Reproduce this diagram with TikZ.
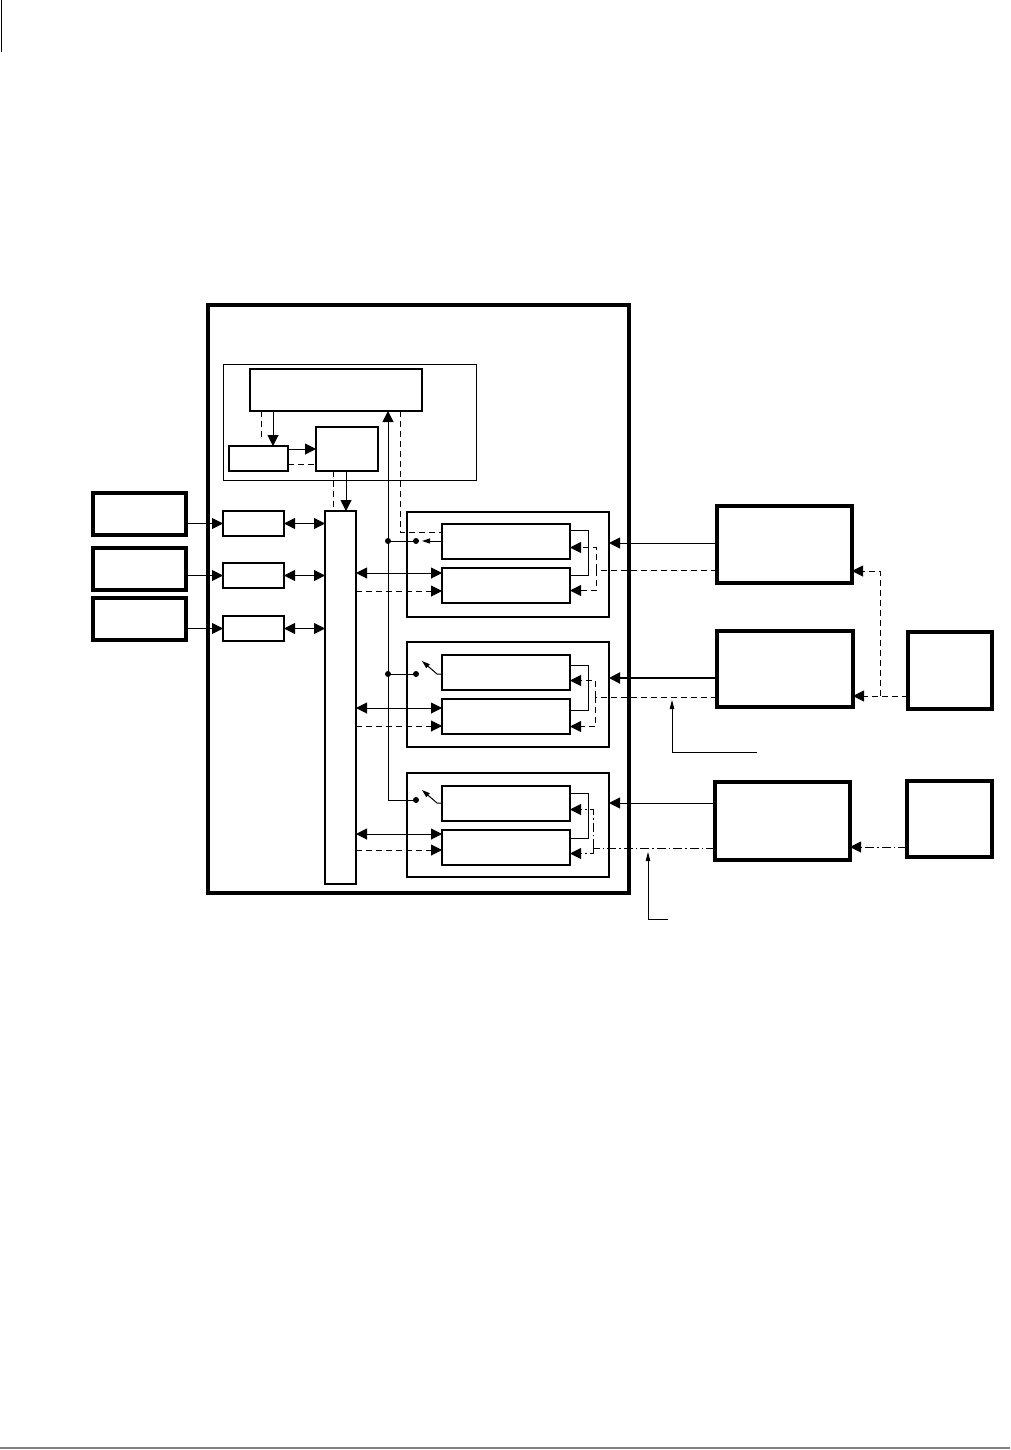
\documentclass[tikz,border=0pt]{standalone}
\usetikzlibrary{arrows.meta}

\tikzset{
  box/.style={draw, inner sep=0pt, outer sep=0pt, line width=#1},
  box/.default=1pt,
  dsh/.style={dash pattern=on 6pt off 4pt},
  ddot/.style={dash pattern=on 9pt off 3pt on 1.5pt off 3pt},
  sml/.style={-{Triangle[length=8pt,width=5pt]}},
  lead/.style={-{Triangle[length=9pt,width=4.5pt]}, line width=0.8pt}
}

\begin{document}
\begin{tikzpicture}[x=1pt, y=-1pt, line width=1pt, >={Triangle[length=11pt,width=11pt]}]

\useasboundingbox (0,0) rectangle (1010,1450);
\draw[line width=1.5pt] (1.5,0) -- (1.5,52);
\draw[gray, line width=2pt] (0,1448) -- (1010,1448);

% system frame
\node[box=4pt, minimum width=421pt, minimum height=588pt] (sys) at (418.5,599) {};
\node[box=1pt, minimum width=253pt, minimum height=116pt] (ctl) at (349.5,422) {};
\node[box=2pt, minimum width=172pt, minimum height=42pt] (cpu) at (336,390) {};
\node[box=2pt, minimum width=59pt, minimum height=25pt] (mem) at (258.5,458.5) {};
\node[box=2pt, minimum width=62pt, minimum height=44pt] (io) at (347,449) {};
\node[box=2pt, minimum width=31pt, minimum height=373pt] (bus) at (340.5,697.5) {};

% terminals and ports
\node[box=4pt, minimum width=93pt, minimum height=42pt] (term1) at (139.5,514) {};
\node[box=4pt, minimum width=93pt, minimum height=42pt] (term2) at (139.5,569) {};
\node[box=4pt, minimum width=93pt, minimum height=42pt] (term3) at (139.5,619) {};
\node[box=2pt, minimum width=61pt, minimum height=25pt] (port1) at (253.5,523.5) {};
\node[box=2pt, minimum width=61pt, minimum height=25pt] (port2) at (253.5,575.5) {};
\node[box=2pt, minimum width=61pt, minimum height=25pt] (port3) at (253.5,628.5) {};

% line modules
\node[box=2pt, minimum width=202pt, minimum height=105pt] (mod1) at (508,564.5) {};
\node[box=1.5pt, minimum width=128pt, minimum height=35pt] (mod1a) at (506,541.5) {};
\node[box=1.5pt, minimum width=128pt, minimum height=35pt] (mod1b) at (506,585.5) {};
\node[box=2pt, minimum width=202pt, minimum height=105pt] (mod2) at (508,694.5) {};
\node[box=1.5pt, minimum width=128pt, minimum height=35pt] (mod2a) at (506,672.5) {};
\node[box=1.5pt, minimum width=128pt, minimum height=35pt] (mod2b) at (506,716.5) {};
\node[box=2pt, minimum width=202pt, minimum height=104pt] (mod3) at (508,825) {};
\node[box=1.5pt, minimum width=128pt, minimum height=35pt] (mod3a) at (506,803.5) {};
\node[box=1.5pt, minimum width=128pt, minimum height=35pt] (mod3b) at (506,847.5) {};

% outside equipment
\node[box=4pt, minimum width=135pt, minimum height=77pt] (line1) at (784.5,544.5) {};
\node[box=4pt, minimum width=136pt, minimum height=76pt] (line2) at (785,669) {};
\node[box=4pt, minimum width=135pt, minimum height=78pt] (line3) at (782.5,821) {};
\node[box=4pt, minimum width=84pt, minimum height=77pt] (src2) at (950,670.5) {};
\node[box=4pt, minimum width=85pt, minimum height=76pt] (src3) at (949.5,819) {};

% guide columns and rows
\coordinate (v1) at (273,0);
\coordinate (v2) at (261,0);
\coordinate (v3) at (346,0);
\coordinate (v4) at (333,0);
\coordinate (v5) at (388,0);
\coordinate (v6) at (400,0);
\coordinate (h1) at (0,464);
\coordinate (h2) at (0,532);
\coordinate (k1) at (416,541);
\coordinate (k2) at (416,674);
\coordinate (k3) at (416,800);
\coordinate (b1) at (0,573);
\coordinate (b2) at (0,708);
\coordinate (b3) at (0,834);
\coordinate (d1) at (0,591);
\coordinate (d2) at (0,726);
\coordinate (d3) at (0,850);
\coordinate (s1) at (0,543);
\coordinate (s2) at (0,678);
\coordinate (s3) at (0,803);
\coordinate (j1) at (596,570);
\coordinate (j2) at (595,697);
\coordinate (j3) at (593,848);
\coordinate (j4) at (880,696);
\coordinate (j5) at (880,571);
\coordinate (j6) at (0,847);
\coordinate (n1) at (672,752);
\coordinate (n1e) at (757,752);
\coordinate (n2) at (648,919);
\coordinate (n2e) at (668,919);

% control unit
\draw[->] (cpu.south -| v1) -- (mem.north -| v1);
\draw[dsh] (cpu.south -| v2) -- ++(0,30);
\draw[->] (mem.east |- io.west) -- (io.west);
\draw[dsh] (mem.east |- h1) -- (io.west |- h1);
\draw[->] (io.south -| v3) -- (bus.north -| v3);
\draw[dsh] (io.south -| v4) -- (bus.north -| v4);

% control line to modules
\draw[->] (k3) -| (cpu.south -| v5);
\draw (v5 |- k1) -- (k1);
\draw (v5 |- k2) -- (k2);
\fill (v5 |- k1) circle (3pt) (k1) circle (3pt);
\fill (v5 |- k2) circle (3pt) (k2) circle (3pt);
\fill (k3) circle (3pt);
\draw[sml] (mod1a.west |- k1) -- ++(-20,0);
\draw[sml] (mod2a.west |- k2) -- ++(-5,0) -- ++(-15,-13);
\draw[sml] ([yshift=-3pt]mod3a.west |- k3) -- ++(-5,0) -- ++(-15,-13);
\draw[dsh] (cpu.south -| v6) |- (mod1a.west |- h2);

% ports to bus
\draw[->] (term1.east |- port1.east) -- (port1.west);
\draw[->] (term2.east |- port2.east) -- (port2.west);
\draw[->] (term3.east |- port3.east) -- (port3.west);
\draw[<->] (port1.east) -- (bus.west |- port1.east);
\draw[<->] (port2.east) -- (bus.west |- port2.east);
\draw[<->] (port3.east) -- (bus.west |- port3.east);

% bus to modules
\draw[<->] (bus.east |- b1) -- (mod1b.west |- b1);
\draw[<->] (bus.east |- b2) -- (mod2b.west |- b2);
\draw[<->] (bus.east |- b3) -- (mod3b.west |- b3);
\draw[dsh,->] (bus.east |- d1) -- (mod1b.west |- d1);
\draw[dsh,->] (bus.east |- d2) -- (mod2b.west |- d2);
\draw[dsh,->] (bus.east |- d3) -- (mod3b.west |- d3);

% module loops
\draw ([yshift=-6pt]mod1a.north east) -- ++(18,0) |- ([yshift=-7pt]mod1b.north east);
\draw ([yshift=-10pt]mod2a.north east) -- ++(18,0) |- ([yshift=-11pt]mod2b.north east);
\draw ([yshift=-7pt]mod3a.north east) -- ++(18,0) |- ([yshift=-8pt]mod3b.north east);

% lines in
\draw[->] (line1.west |- s1) -- (mod1.east |- s1);
\draw[->, line width=2pt] (line2.west |- s2) -- (mod2.east |- s2);
\draw[->] (line3.west |- s3) -- (mod3.east |- s3);
\draw[dsh] (line1.west |- j1) -- (j1);
\draw[dsh,->] (j1) |- ([yshift=-6pt]mod1a.east);
\draw[dsh,->] (j1) |- ([yshift=-5pt]mod1b.east);
\draw[dsh] (line2.west |- j2) -- (j2);
\draw[dsh,->] (j2) |- ([yshift=-8pt]mod2a.east);
\draw[dsh,->] (j2) |- ([yshift=-10pt]mod2b.east);
\draw[ddot] (line3.west |- j3) -- (j3);
\draw[ddot,->] (j3) |- ([yshift=-6pt]mod3a.east);
\draw[ddot,->] (j3) |- ([yshift=-6pt]mod3b.east);

% sources
\draw[dsh,->] (src2.west |- j4) -- (line2.east |- j4);
\draw[dsh,->] (j4) -- (j5) -- (line1.east |- j5);
\draw[ddot,->] (src3.west |- j6) -- (line3.east |- j6);

% leaders
\draw[lead] (n1e) -- (n1) -- ++(0,-52);
\draw[lead] (n2e) -- (n2) -- ++(0,-67);

\end{tikzpicture}
\end{document}
